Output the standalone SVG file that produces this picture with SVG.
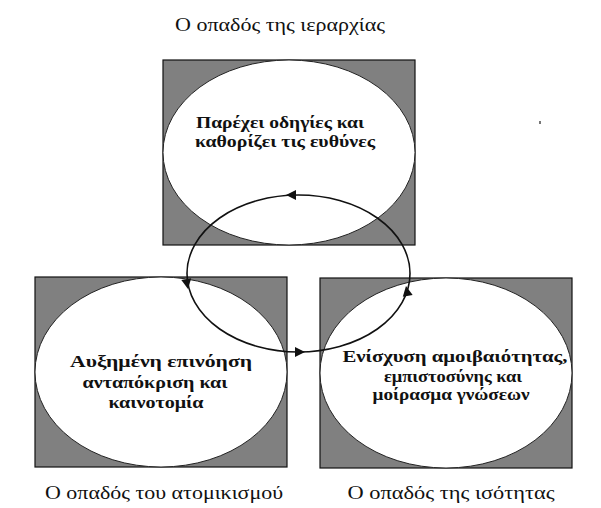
<svg xmlns="http://www.w3.org/2000/svg" width="601" height="508" viewBox="0 0 601 508">
<defs>
<style>
.box{fill:#808080;stroke:#111;stroke-width:1.2}
.oval{fill:#fff;stroke:#222;stroke-width:1}
.t{font-family:"Liberation Serif","DejaVu Serif","Times New Roman",serif;font-size:17px;font-weight:bold;fill:#111;text-anchor:middle}
.lbl{font-family:"Liberation Serif","DejaVu Serif","Times New Roman",serif;font-size:18px;fill:#111;text-anchor:middle}
.cyc{fill:none;stroke:#111;stroke-width:1.6}
.ah{fill:#111}
</style>
</defs>
<rect width="601" height="508" fill="#fff"/>
<g id="hierarchy">
<rect class="box" x="163" y="60" width="252" height="185"/>
<ellipse class="oval" cx="289" cy="152.5" rx="126" ry="92.5"/>
<text class="t" x="280" y="128" textLength="168" lengthAdjust="spacingAndGlyphs">Παρέχει οδηγίες και</text>
<text class="t" x="285" y="147" textLength="180" lengthAdjust="spacingAndGlyphs">καθορίζει τις ευθύνες</text>
</g>
<g id="individualism">
<rect class="box" x="35" y="277" width="252" height="190"/>
<ellipse class="oval" cx="161" cy="372" rx="126" ry="95"/>
<text class="t" x="161" y="367" textLength="182" lengthAdjust="spacingAndGlyphs">Αυξημένη επινόηση</text>
<text class="t" x="155" y="388" textLength="145" lengthAdjust="spacingAndGlyphs">ανταπόκριση και</text>
<text class="t" x="156" y="408" textLength="95" lengthAdjust="spacingAndGlyphs">καινοτομία</text>
</g>
<g id="equality">
<rect class="box" x="320" y="278" width="252" height="190"/>
<ellipse class="oval" cx="446" cy="373" rx="126" ry="95"/>
<text class="t" x="455" y="362" textLength="225" lengthAdjust="spacingAndGlyphs">Ενίσχυση αμοιβαιότητας,</text>
<text class="t" x="453" y="382" textLength="138" lengthAdjust="spacingAndGlyphs">εμπιστοσύνης και</text>
<text class="t" x="451" y="400" textLength="157" lengthAdjust="spacingAndGlyphs">μοίρασμα γνώσεων</text>
</g>
<g id="connectors">
<ellipse class="cyc" cx="298.5" cy="273.5" rx="111.5" ry="78.5"/>
<polygon class="ah" points="0,0 10,-5 10,5" transform="translate(286,195)"/>
<polygon class="ah" points="0,0 10,-5 10,5" transform="translate(188,289) rotate(-100)"/>
<polygon class="ah" points="0,0 10,-5 10,5" transform="translate(305,352) rotate(180)"/>
<polygon class="ah" points="0,0 10,-5 10,5" transform="translate(406,286) rotate(80)"/>
</g>
<g id="labels">
<text class="lbl" x="280" y="31" textLength="210" lengthAdjust="spacingAndGlyphs">Ο οπαδός της ιεραρχίας</text>
<text class="lbl" x="164" y="499" textLength="238" lengthAdjust="spacingAndGlyphs">Ο οπαδός του ατομικισμού</text>
<text class="lbl" x="451" y="499" textLength="207" lengthAdjust="spacingAndGlyphs">Ο οπαδός της ισότητας</text>
</g>
<rect x="539" y="121" width="2" height="3" fill="#777"/>
</svg>
